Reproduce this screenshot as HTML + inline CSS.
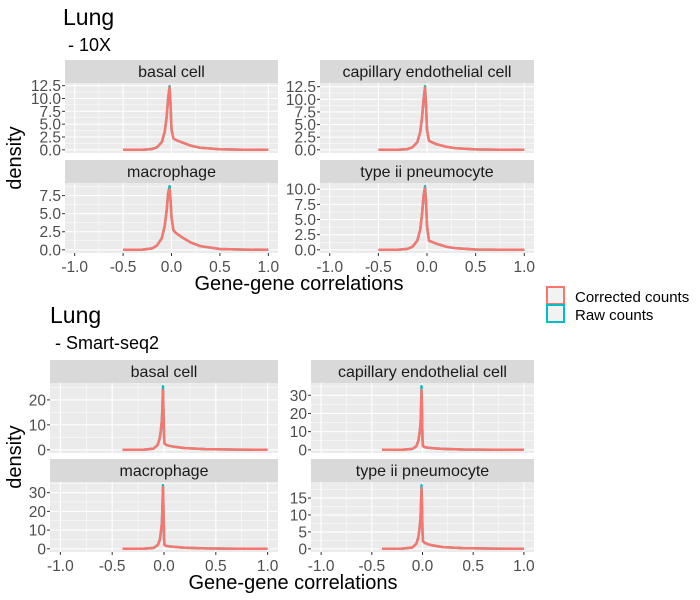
<!DOCTYPE html>
<html><head><meta charset="utf-8"><style>
body{margin:0;background:#fff}
svg{display:block;font-family:"Liberation Sans",sans-serif}
</style></head><body>
<svg id="c" width="700" height="600" xmlns="http://www.w3.org/2000/svg">
<rect width="700" height="600" fill="#fff"/>
<text x="63" y="25" font-size="23" fill="#000">Lung</text>
<text x="68" y="51" font-size="18" fill="#000">- 10X</text>
<text x="50" y="323" font-size="23" fill="#000">Lung</text>
<text x="55" y="349" font-size="18" fill="#000">- Smart-seq2</text>
<text transform="translate(21,158) rotate(-90)" text-anchor="middle" font-size="20">density</text>
<text transform="translate(21,457) rotate(-90)" text-anchor="middle" font-size="20">density</text>
<text x="299" y="290" text-anchor="middle" font-size="20">Gene-gene correlations</text>
<text x="293" y="589" text-anchor="middle" font-size="20">Gene-gene correlations</text>
<g>
<rect x="547" y="287" width="17" height="17" fill="#f2f2f2" stroke="#F8766D" stroke-width="2"/>
<text x="575" y="302" font-size="15">Corrected counts</text>
<rect x="547" y="305" width="17" height="17" fill="#f2f2f2" stroke="#00BFC4" stroke-width="2"/>
<text x="575" y="320" font-size="15">Raw counts</text>
</g>
<g id="panels"></g>
</svg>
<script>
const xs10 = [-0.5,-0.3,-0.2,-0.15,-0.1,-0.07,-0.05,-0.035,-0.02,-0.01,0.0,0.02,0.05,0.1,0.2,0.3,0.5,0.75,1.0];
const xsSS = [-0.4,-0.2,-0.1,-0.06,-0.04,-0.03,-0.02,-0.015,-0.01,-0.005,0,0.005,0.02,0.05,0.1,0.2,0.4,0.7,1.0];
const basal10 = [0,0.02,0.15,0.5,1.5,3.5,6.5,10,12.2,9,4,2.2,1.9,1.5,0.8,0.4,0.1,0.02,0];
const cap10 = [0,0.02,0.15,0.5,1.5,3.5,6.5,10,12.3,9,4,1.8,1.5,1.1,0.6,0.3,0.08,0.02,0];
const mac10 = [0,0.03,0.2,0.6,1.6,3.3,5.5,7.8,8.4,7,4.5,2.7,2.3,1.8,1,0.5,0.12,0.03,0];
const type2_10 = [0,0.02,0.15,0.5,1.5,3.3,6,9,10.2,8,4,1.5,1.3,1,0.5,0.25,0.06,0.01,0];
const basalSS = [0,0.05,0.5,2,5,8,12,17,24,15,6,2.5,2,1.6,1.2,0.7,0.3,0.1,0];
const capSS = [0,0.05,0.5,2,5,9,14,22,33,20,6,2,1.5,1.2,0.9,0.5,0.2,0.05,0];
const macSS = [0,0.05,0.5,2,5,9,14,22,33,20,6,2,1.6,1.3,1,0.6,0.25,0.08,0];
const type2SS = [0,0.05,0.4,1.5,3.5,6,9,13,18,12,5,2.2,1.8,1.4,1,0.5,0.2,0.05,0];
const rawPeaks = [12.4,12.6,8.8,10.5,25.5,35,34,18.8];
const xTicks = [-1,-0.5,0,0.5,1];
const xTickLabels = ["-1.0","-0.5","0.0","0.5","1.0"];
const yTicks10b = [0,2.5,5,7.5,10,12.5];
const yTicks10m = [0,2.5,5,7.5];
const yTicks10t = [0,2.5,5,7.5,10];
const yTicksSSb = [0,10,20];
const yTicksSS30 = [0,10,20,30];
const yTicksSSt = [0,5,10,15];
const names = ["basal cell","capillary endothelial cell","macrophage","type ii pneumocyte"];

const NS="http://www.w3.org/2000/svg";
const root=document.getElementById('panels');
function mk(tag,attrs,parent){const e=document.createElementNS(NS,tag);for(const k in attrs)e.setAttribute(k,attrs[k]);(parent||root).appendChild(e);return e;}

const panels=[
 {x0:65,x1:278,sy:60,y0:83,y1:153,xs:xs10,ys:basal10,t:yTicks10b,d:1,n:0,bot:false,pk:0},
 {x0:320,x1:534,sy:60,y0:83,y1:153,xs:xs10,ys:cap10,t:yTicks10b,d:1,n:1,bot:false,pk:1},
 {x0:65,x1:278,sy:160,y0:183,y1:253,xs:xs10,ys:mac10,t:yTicks10m,d:1,n:2,bot:true,pk:2},
 {x0:320,x1:534,sy:160,y0:183,y1:253,xs:xs10,ys:type2_10,t:yTicks10t,d:1,n:3,bot:true,pk:3},
 {x0:50,x1:278,sy:360,y0:383,y1:453,xs:xsSS,ys:basalSS,t:yTicksSSb,d:0,n:0,bot:false,pk:4},
 {x0:311,x1:534,sy:360,y0:383,y1:453,xs:xsSS,ys:capSS,t:yTicksSS30,d:0,n:1,bot:false,pk:5},
 {x0:50,x1:278,sy:459,y0:482,y1:552,xs:xsSS,ys:macSS,t:yTicksSS30,d:0,n:2,bot:true,pk:6},
 {x0:311,x1:534,sy:459,y0:482,y1:552,xs:xsSS,ys:type2SS,t:yTicksSSt,d:0,n:3,bot:true,pk:7}
];
panels.forEach((p,i)=>{
 const g=mk('g',{});
 
 
 const sx=v=>p.x0+(v+1.1)/2.2*(p.x1-p.x0);
 const raw=p.ys.slice(); let mi=raw.indexOf(Math.max(...raw)); raw[mi]=rawPeaks[p.pk];
 const mx=Math.max(...raw), lo=-0.05*mx, hi=1.05*mx;
 const sy=v=>p.y1-(v-lo)/(hi-lo)*(p.y1-p.y0);
 const strip=mk('rect',{x:p.x0,y:p.sy,width:p.x1-p.x0,height:p.y0-p.sy,fill:'#d9d9d9'},g);
 
 
 const st=mk('text',{x:(p.x0+p.x1)/2,y:p.sy+17,'text-anchor':'middle','font-size':16,fill:'#1a1a1a'},g);
 st.textContent=names[p.n];
 
 
 mk('rect',{x:p.x0,y:p.y0,width:p.x1-p.x0,height:p.y1-p.y0,fill:'#ebebeb'},g);
 const step=p.t[1]-p.t[0];
 for(let k=0;k<p.t.length+1;k++){const v=p.t[0]+step*(k-0.5);const y=sy(v);if(y>p.y0&&y<p.y1)mk('line',{x1:p.x0,x2:p.x1,y1:y,y2:y,stroke:'#fff','stroke-width':0.5},g);}
 for(let k=0;k<xTicks.length-1;k++){const x=sx((xTicks[k]+xTicks[k+1])/2);mk('line',{x1:x,x2:x,y1:p.y0,y2:p.y1,stroke:'#fff','stroke-width':0.5},g);}
 p.t.forEach(v=>{const y=sy(v);mk('line',{x1:p.x0,x2:p.x1,y1:y,y2:y,stroke:'#fff','stroke-width':1.1},g);
  mk('line',{x1:p.x0-3,x2:p.x0,y1:y,y2:y,stroke:'#333','stroke-width':1},g);
  const tl=mk('text',{x:p.x0-4,y:y+5.5,'text-anchor':'end','font-size':15.5,fill:'#4d4d4d'},g);
  tl.textContent=p.d?v.toFixed(1):String(v);
  
  });
 xTicks.forEach((v,k)=>{const x=sx(v);mk('line',{x1:x,x2:x,y1:p.y0,y2:p.y1,stroke:'#fff','stroke-width':1.1},g);
  if(p.bot){mk('line',{x1:x,x2:x,y1:p.y1,y2:p.y1+3,stroke:'#333','stroke-width':1},g);
  const tl=mk('text',{x:x,y:p.y1+19,'text-anchor':'middle','font-size':15.5,fill:'#4d4d4d'},g);
  tl.textContent=xTickLabels[k];
  
  }});
 const pts=a=>p.xs.map((x,j)=>sx(x).toFixed(1)+','+sy(a[j]).toFixed(1)).join(' ');
 const l1=mk('polyline',{points:pts(raw),fill:'none',stroke:'#00BFC4','stroke-width':2.5,'stroke-linejoin':'round'},g);
 
 
 const l2=mk('polyline',{points:pts(p.ys),fill:'none',stroke:'#F8766D','stroke-width':2.5,'stroke-linejoin':'round'},g);
 
 
});
</script>
</body></html>
